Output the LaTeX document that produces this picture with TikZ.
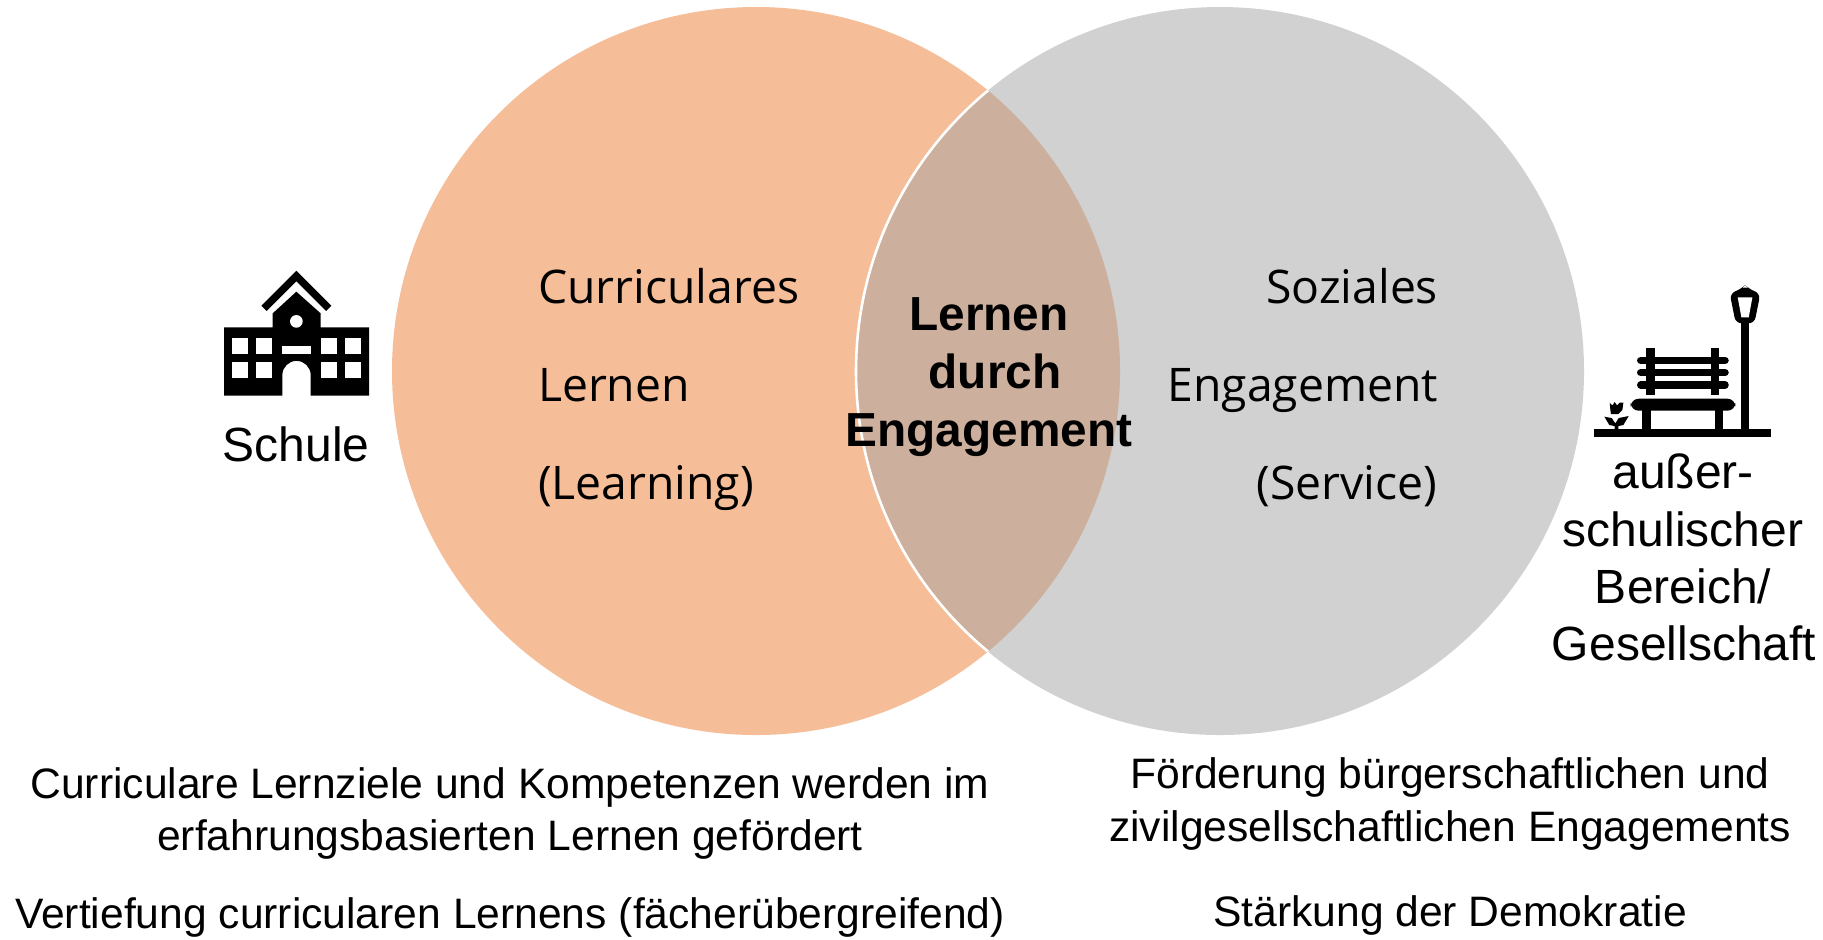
\documentclass[tikz,border=0pt]{standalone}
\usepackage{fontspec}
\setmainfont{Liberation Sans}
\newfontfamily\opensans{Open Sans}
\definecolor{orangefill}{HTML}{F6BE98}
\definecolor{grayfill}{HTML}{D1D1D1}
\definecolor{overlapfill}{HTML}{CCAF9C}
\tikzset{
  plain/.style={inner sep=0pt,outer sep=0pt,anchor=base,font=\fontsize{24}{28}\selectfont},
  lowtxt/.style={plain,font=\fontsize{21.3}{26}\selectfont},
  boldtxt/.style={plain,font=\fontsize{23.9}{28}\selectfont\bfseries},
  leftcirc/.style={plain,anchor=base west,font=\opensans\fontsize{23.15}{28}\selectfont},
  rightcirc/.style={plain,anchor=base east,font=\opensans\fontsize{23.15}{28}\selectfont},
  icon/.style={fill=black,draw=none},
  hole/.style={fill=white,draw=none},
  barline/.style={black,line cap=round,line width=3.7pt}
}
\begin{document}
\begin{tikzpicture}[x=0.5pt,y=-0.5pt]
\useasboundingbox (0,0) rectangle (1823,939);
\fill[white] (0,0) rectangle (1823,939);
% circles
\fill[orangefill] (756,371) circle [x radius=364,y radius=364];
\fill[grayfill] (1220,371) circle [x radius=364,y radius=364];
\begin{scope}
  \clip (756,371) circle [x radius=364,y radius=364];
  \fill[overlapfill] (1220,371) circle [x radius=364,y radius=364];
  \draw[white,line width=1.3pt] (1220,371) circle [x radius=364,y radius=364];
\end{scope}
% school icon
\begin{scope}[shift={(200,250)},x=0.1667pt,y=-0.1667pt]
  \draw[black,line width=3.7pt,miter limit=10] (192,175) -- (289,78) -- (386,175);
  \fill[icon] (72,232) -- (218,232) -- (218,190) -- (289,125) -- (362,190) -- (362,232) -- (507,232) -- (507,437) -- (332,437) -- (332,375) arc[start angle=0,end angle=-180,x radius=42.5,y radius=42.5] -- (247,437) -- (72,437) -- cycle;
  \fill[hole] (289,214) circle [x radius=19,y radius=19];
  \fill[hole] (247,287) rectangle (332,311);
  \foreach \xa in {96,169,362,435} {
    \fill[hole] (\xa,263) rectangle +(48,48);
    \fill[hole] (\xa,335) rectangle +(48,48);
  }
\end{scope}
% bench icon
\begin{scope}[shift={(1570,260)},x=0.1667pt,y=-0.1667pt]
  \fill[icon] (72,507) rectangle (604,531);
  \fill[icon] (514,180) rectangle (537,510);
  \fill[icon,rounded corners=3pt] (479,100) -- (512,88) -- (525,75) -- (538,88) -- (571,100) -- (553,190) -- (497,190) -- cycle;
  \fill[hole] (503,112) -- (547,112) -- (536,172) -- (514,172) -- cycle;
  \fill[icon] (229,265) rectangle (254,405);
  \fill[icon] (423,265) rectangle (448,405);
  \draw[barline] (212,301) -- (465,301);
  \draw[barline] (212,338) -- (465,338);
  \draw[barline] (212,375) -- (465,375);
  \fill[icon,rounded corners=4pt] (182,416) rectangle (496,452);
  \fill[icon] (216,450) rectangle (242,510);
  \fill[icon] (434,450) rectangle (460,510);
  \fill[icon] (119,428) -- (127,436) -- (134,426) -- (141,436) -- (149,428) -- (160,428) -- (157,450) -- (145,462) -- (123,462) -- (121,450) -- cycle;
  \fill[icon] (103,470) -- (125,474) -- (136,490) -- (146,474) -- (176,468) -- (160,495) -- (145,498) -- (145,510) -- (134,510) -- (134,498) -- (118,495) -- cycle;
\end{scope}
% labels
\node[plain] (schule) at (296,461) {Schule};
\node[leftcirc] (cl1) at (538,303) {Curriculares};
\node[leftcirc] (cl2) at (538,401) {Lernen};
\node[leftcirc] (cl3) at (538,499) {(Learning)};
\node[rightcirc] (se1) at (1438,303) {Soziales};
\node[rightcirc] (se2) at (1438,401) {Engagement};
\node[rightcirc] (se3) at (1437,499) {(Service)};
\node[boldtxt] (ld1) at (989,330) {Lernen};
\node[boldtxt] (ld2) at (995,388) {durch};
\node[boldtxt] (ld3) at (989,446) {Engagement};
\node[plain] (au1) at (1683,488) {außer-};
\node[plain] (au2) at (1683,546) {schulischer};
\node[plain] (au3) at (1683,603) {Bereich/};
\node[plain] (au4) at (1684,660) {Gesellschaft};
\node[lowtxt] (bl1) at (510,798) {Curriculare Lernziele und Kompetenzen werden im};
\node[lowtxt] (bl2) at (510,850) {erfahrungsbasierten Lernen gefördert};
\node[lowtxt] (bl3) at (510,928) {Vertiefung curricularen Lernens (fächerübergreifend)};
\node[lowtxt] (br1) at (1450,788) {Förderung bürgerschaftlichen und};
\node[lowtxt] (br2) at (1450,841) {zivilgesellschaftlichen Engagements};
\node[lowtxt] (br3) at (1450,926) {Stärkung der Demokratie};
\end{tikzpicture}
\end{document}
